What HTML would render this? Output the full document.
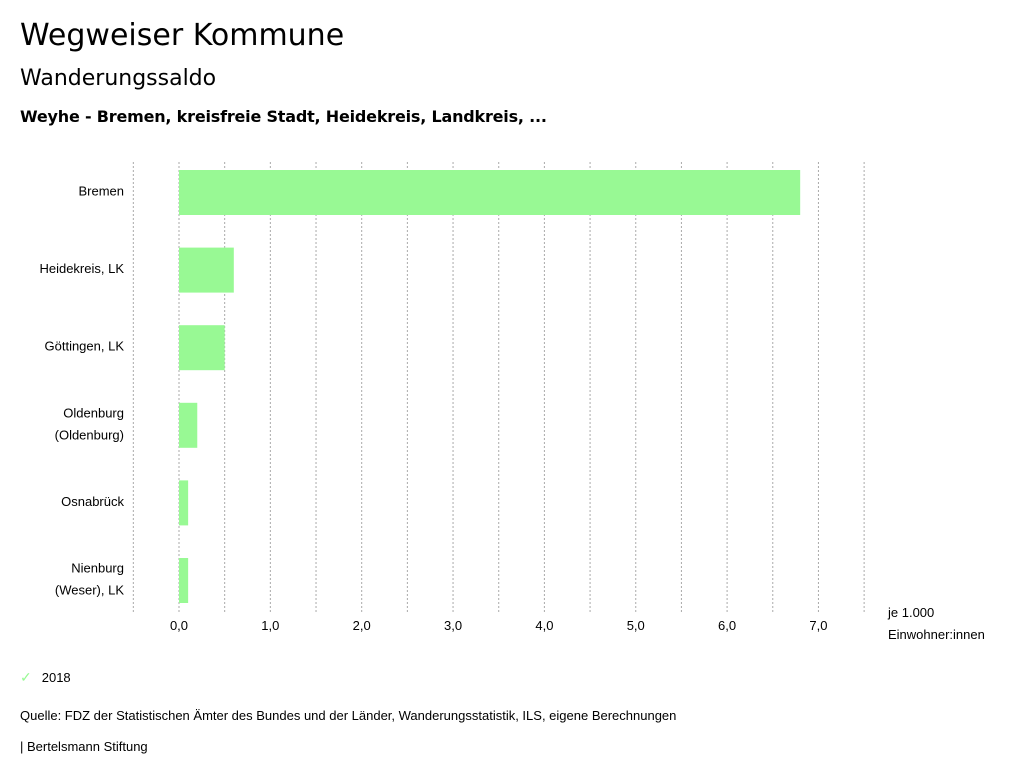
<!DOCTYPE html>
<html><head><meta charset="utf-8"><style>
body{margin:0;width:1024px;height:780px;background:#fff;font-family:"Liberation Sans",sans-serif;color:#000;overflow:hidden}
.t{position:absolute;white-space:nowrap}
</style></head><body>
<div class="t" style="left:20px;top:18px;font-family:'DejaVu Sans',sans-serif;font-size:30px">Wegweiser Kommune</div>
<div class="t" style="left:20px;top:66px;font-family:'DejaVu Sans',sans-serif;font-size:22px">Wanderungssaldo</div>
<div class="t" style="left:20px;top:107px;font-family:'DejaVu Sans',sans-serif;font-size:16px;font-weight:bold;letter-spacing:-0.2px">Weyhe - Bremen, kreisfreie Stadt, Heidekreis, Landkreis, ...</div>
<svg id="chart" width="1024" height="780" style="position:absolute;left:0;top:0"></svg>
<div class="t" style="left:20px;top:669px;font-size:13px;cursor:pointer"><span style="color:#98f994;font-size:14px">✓</span><span style="margin-left:10px">2018</span></div>
<div class="t" style="left:20px;top:708px;font-size:13px">Quelle: FDZ der Statistischen Ämter des Bundes und der Länder, Wanderungsstatistik, ILS, eigene Berechnungen</div>
<div class="t" style="left:20px;top:739px;font-size:13px">| Bertelsmann Stiftung</div>
<script>
const categories=[["Bremen"],["Heidekreis, LK"],["Göttingen, LK"],["Oldenburg","(Oldenburg)"],["Osnabrück"],["Nienburg","(Weser), LK"]];
const values2018=[6.8,0.6,0.5,0.2,0.1,0.1];
const tickValues=[0,1,2,3,4,5,6,7];
const tickLabels=["0,0","1,0","2,0","3,0","4,0","5,0","6,0","7,0"];
const svg=document.getElementById('chart');const NS='http://www.w3.org/2000/svg';
const x=v=>179+v*91.35;
const yTop=162,step=77.6,barH=45;
const y=i=>yTop+8+i*step;
function mk(t,a){const e=document.createElementNS(NS,t);for(const k in a)e.setAttribute(k,a[k]);svg.appendChild(e);return e;}
for(let g=-0.5;g<=7.5;g+=0.5){const l=mk('line',{x1:x(g),x2:x(g),y1:162,y2:612,stroke:'#aaa','stroke-dasharray':'2,2','stroke-width':1});

}
tickValues.forEach((v,i)=>{const t=mk('text',{x:x(v),y:630,'text-anchor':'middle','font-size':13,'font-family':'Liberation Sans, sans-serif'});t.textContent=tickLabels[i];

});
const u1=mk('text',{x:888,y:617,'font-size':13,'font-family':'Liberation Sans, sans-serif'});u1.textContent='je 1.000';


const u2=mk('text',{x:888,y:639,'font-size':13,'font-family':'Liberation Sans, sans-serif'});u2.textContent='Einwohner:innen';


values2018.forEach((v,i)=>{const r=mk('rect',{x:Math.min(x(0),x(v)),y:y(i),width:Math.abs(x(v)-x(0)),height:barH,fill:'#98f994'});


const lines=categories[i];const cy=y(i)+barH/2;
lines.forEach((s,j)=>{const t=mk('text',{x:124,y:cy+3+(j-(lines.length-1)/2)*22,'text-anchor':'end','font-size':13,'font-family':'Liberation Sans, sans-serif'});t.textContent=s;

});});
</script>
</body></html>
